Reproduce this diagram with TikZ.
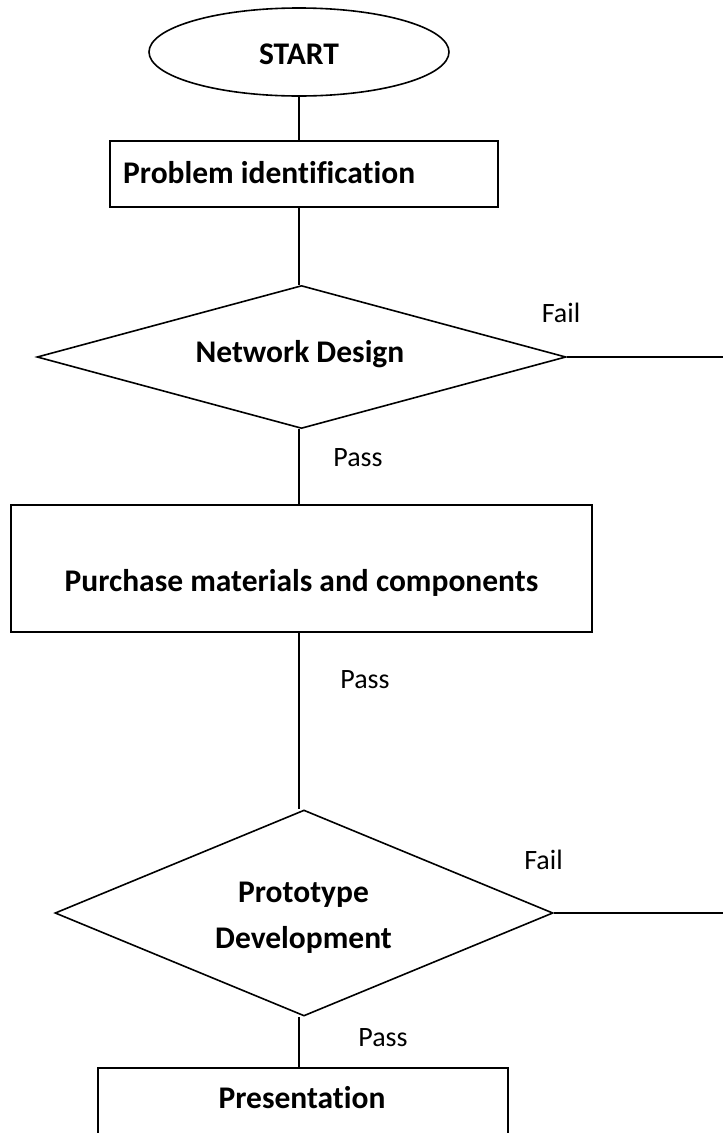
\documentclass[tikz,border=0pt]{standalone}
\usepackage{fontspec}
\setmainfont[Ligatures={NoCommon}]{Carlito}
\usetikzlibrary{shapes.geometric}
\begin{document}
\begin{tikzpicture}[x=1pt,y=-1pt,
  outline/.style={draw=black, line width=1.6pt, inner sep=0pt},
  terminal/.style={outline, ellipse},
  procbox/.style={outline, rectangle},
  decision/.style={outline, diamond},
  heading/.style={font=\fontsize{31.5}{46}\selectfont\bfseries, inner sep=0pt},
  tag/.style={font=\fontsize{28}{34}\selectfont, inner sep=0pt, anchor=base},
  link/.style={draw=black, line width=1.6pt}]
\useasboundingbox (0,0) rectangle (723,1133);
\clip (0,0) rectangle (723,1133);

% shapes
\node[terminal, minimum width=300pt, minimum height=88pt] (start) at (299,52) {};
\node[procbox, minimum width=388pt, minimum height=66pt] (prob) at (304,174) {};
\node[decision, minimum width=529pt, minimum height=143pt] (net) at (301.5,357) {};
\node[procbox, minimum width=581pt, minimum height=127pt] (buy) at (301.5,568.5) {};
\node[decision, minimum width=498pt, minimum height=206pt] (proto) at (304,913) {};
\node[procbox, minimum width=410pt, minimum height=100pt] (pres) at (303,1118) {};

% texts
\node[heading, anchor=base] (startT) at (299,64) {START};
\node[heading, anchor=base west] (probT) at (123,183) {Problem identification};
\node[heading, anchor=base] (netT) at (300,362) {Network Design};
\node[heading, anchor=base] (buyT) at (301.5,591) {Purchase materials and components};
\node[heading, align=center, anchor=center] (protoT) at (303.5,918) {Prototype\\Development};
\node[heading, anchor=base] (presT) at (302,1108) {Presentation};

% free ends of the fail branches
\coordinate (netFail) at (723,357);
\coordinate (protoFail) at (723,913);

% connectors
\draw[link] (start.south) -- (prob.north -| start.south);
\draw[link] (prob.south -| start.south) -- (net.north -| start.south);
\draw[link] (net.east) -- (netFail);
\draw[link] (net.south -| start.south) -- (buy.north -| start.south);
\draw[link] (buy.south -| start.south) -- (proto.north -| start.south);
\draw[link] (proto.east) -- (protoFail);
\draw[link] (proto.south -| start.south) -- (pres.north -| start.south);

% branch labels
\node[tag] (fail1) at (561,322) {Fail};
\node[tag] (pass1) at (358,466) {Pass};
\node[tag] (pass2) at (365,688) {Pass};
\node[tag] (fail2) at (543.5,869) {Fail};
\node[tag] (pass3) at (383,1046) {Pass};
\end{tikzpicture}
\end{document}
